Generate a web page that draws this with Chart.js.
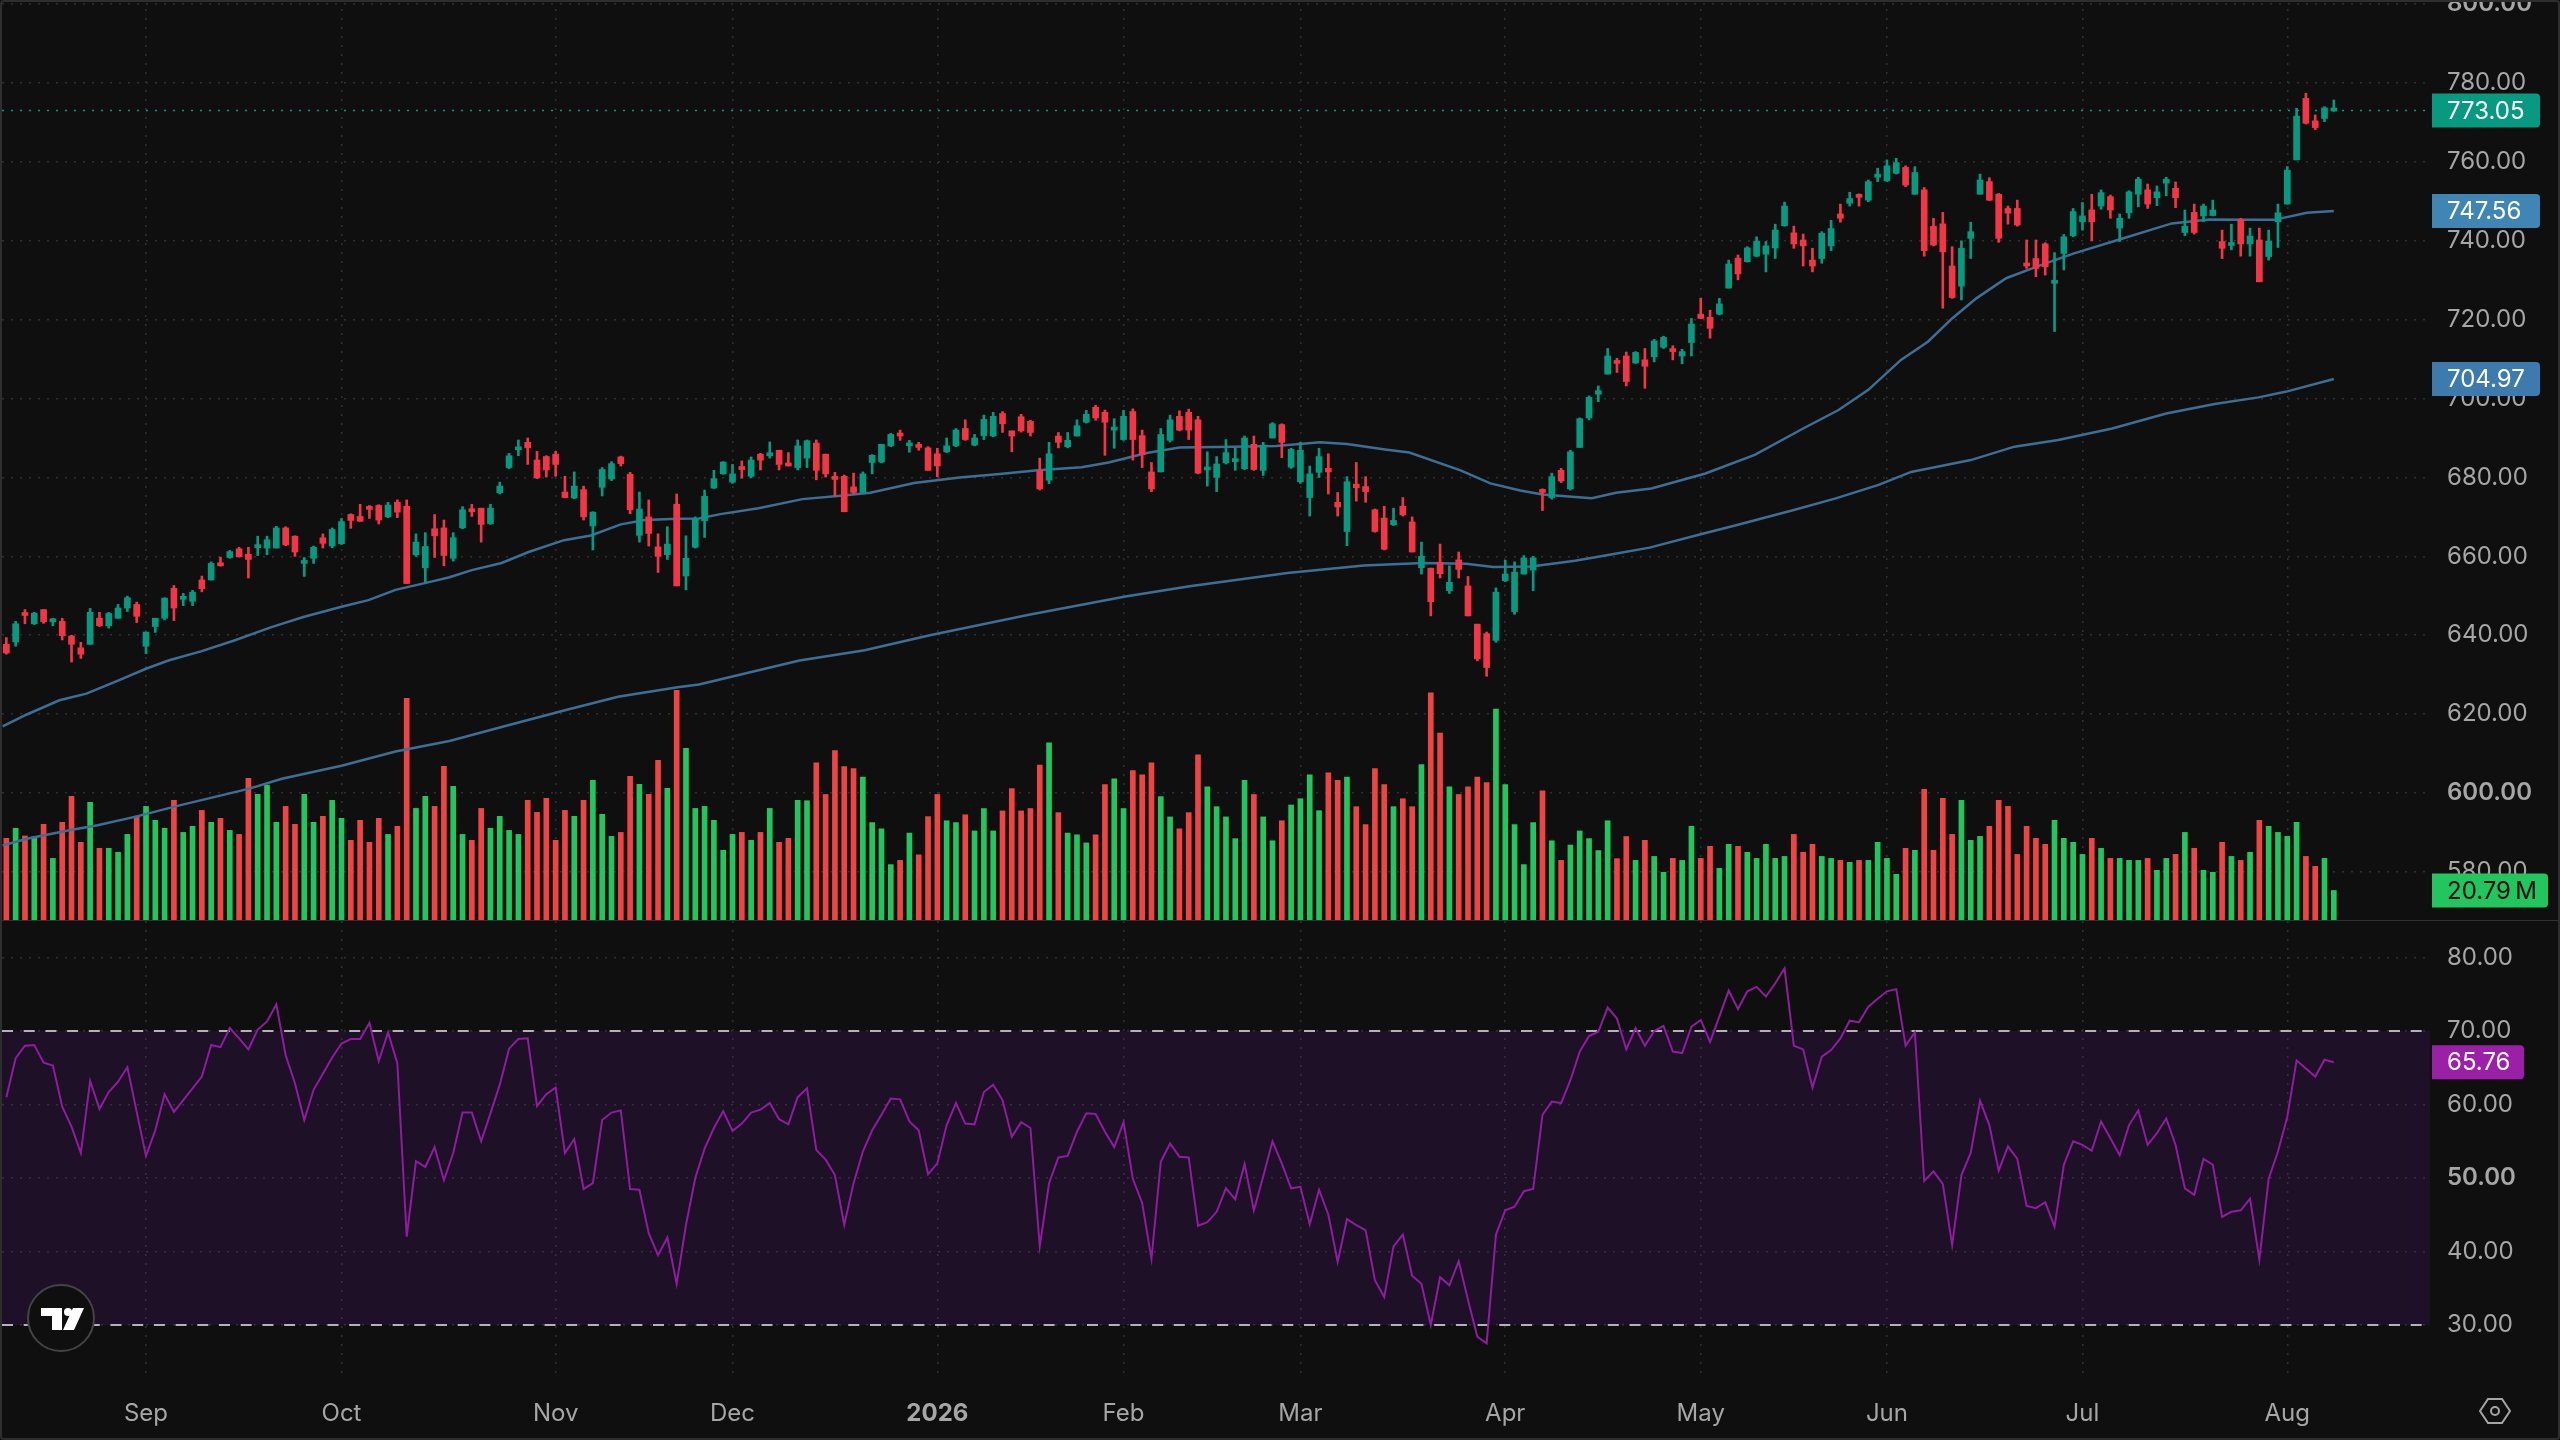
<!DOCTYPE html>
<html>
<head>
<meta charset="utf-8">
<title>Chart</title>
<script src="https://cdn.jsdelivr.net/npm/chart.js@4"></script>
<style>
  html, body { margin: 0; padding: 0; width: 2560px; height: 1440px; background: #0f0f0f; overflow: hidden; }
  canvas { position: absolute; left: 0; }
  #priceChart { top: 0; }
  #rsiChart { top: 921px; }
  #divider { position: absolute; left: 0; top: 920px; width: 2560px; height: 1px; background: #333; }
  #frame { position: absolute; left: 0; top: 0; width: 2556px; height: 1436px; border: 2px solid #2e2e2e; border-radius: 4px; pointer-events: none; }
</style>
</head>
<body>
<canvas id="priceChart" width="2560" height="920"></canvas>
<canvas id="rsiChart" width="2560" height="519"></canvas>
<div id="divider"></div>
<div id="frame"></div>
<script>
// bars are numbered 0..250, one per trading day
const monthTicks = [15, 36, 59, 78, 100, 120, 139, 161, 182, 202, 223, 245];
const monthLabels = ["Sep", "Oct", "Nov", "Dec", "2026", "Feb", "Mar", "Apr", "May", "Jun", "Jul", "Aug"];
const priceTicks = [580, 600, 620, 640, 660, 680, 700, 720, 740, 760, 780, 800];
const rsiTicks = [30, 40, 50, 60, 70, 80];

const opens = [
  637.7,638.3,645.5,642.9,646.5,643.4,643.5,639.8,636.8,637.7,
  644.3,642.4,644.3,646.9,647.8,637.2,642.2,644.3,651.9,649.1,
  648.6,654,654,657.9,659.7,661.9,660.5,662.2,662.1,662.1,
  667.2,665.1,658.2,659.5,664.7,662.6,663.2,670.6,670.1,672.2,
  672.9,670,673.7,672.7,660.4,657.1,667,667.2,659.5,667.2,
  671.8,672.2,668.3,676.1,682.5,687,688.9,684.4,685.3,685.9,
  676.3,674.8,676.9,667.7,677.5,679.6,685.2,680.8,665.3,670,
  662.4,660.4,673.2,655,662.3,669,677.3,680.9,678.8,682.5,
  680.3,685.9,685.5,686.9,683.3,682.5,684.9,688.7,685.9,680.1,
  680.3,677.6,676.2,683.8,683.9,688,690.9,688,688.1,687.5,
  686,686.5,688,692.4,688.2,690.6,690.5,696.2,691.8,695.4,
  694.2,681.7,679.3,690.5,687.8,690.5,694,697.8,696.5,692,
  689.6,696.7,690.6,681.4,681.4,689.4,695.5,696.5,694.6,681.9,
  680,683.7,684,682.2,688.4,681.8,690,693.4,682.6,678.9,
  674.9,681.3,682.3,673.7,666.3,678.3,677.7,671.8,669.7,668,
  672.7,668.7,657.1,657,658.5,651.3,659.1,652.5,642.8,640.4,
  638.7,653.8,646,655.5,656.5,676.7,674.9,681.8,677.1,687.6,
  695.1,701.1,706.2,709.3,710.8,709,709.8,710.6,713,712.5,
  710.8,714.2,721.4,720.6,721.4,728,735.6,734.7,736.1,736.6,
  738.2,743.8,742,740.2,735.1,735.5,738.7,746.8,749.5,751.4,
  750.3,756.1,755.2,757.1,758.6,751.8,752.9,743.7,744.3,733.6,
  728.5,740.6,751.8,755,751.8,748.2,748.2,734.1,735.5,739.2,
  729.2,736.8,741.3,744.8,747.8,748.8,751.2,743.2,747.1,751.8,
  752.9,750.9,754.6,753.3,742.1,747.2,746.3,746.4,739.8,738.8,
  745.4,739.2,740.2,736,744.8,749.3,760.5,776.1,770.4,771,772.9
];
const highs = [
  639.4,643.5,646.5,645.8,646.5,644.3,644.3,640,638.2,646.8,
  645.8,645.8,647.8,649.9,648.4,640.8,644.3,649.5,652.6,650.6,
  651.4,655,658.6,659.8,661.5,662.3,662.3,665.1,665.1,667.6,
  667.5,665.2,659.7,662.6,665.7,667.2,669.6,670.8,673.2,672.9,
  673.1,673.7,674.3,674.3,665.7,666,670.6,669.2,666,672.6,
  673.2,672.2,673.2,678.8,686.1,689.5,690,686.6,685.5,686.6,
  680.3,681.4,677.8,671.3,682.5,684,685.4,681.3,676.3,674.3,
  665.7,667.5,675.8,665.2,670,676.8,681.8,684,683.3,684.2,
  685.2,686.1,689,686.9,686.3,689.5,689.5,689.5,685.9,681.3,
  680.6,681.1,681.4,685.8,688.4,691.2,692,689.4,688.9,687.8,
  687.4,690,692.4,694.6,690.9,695.8,696.5,696.7,691.8,696,
  694.5,684.9,688.9,691.4,691.4,694.6,697,698.3,697.1,694.9,
  697,697.4,692,683.8,692.4,695.8,696.9,697.3,695.5,686.5,
  685.3,689.6,687.4,690.5,690.5,688.9,693.9,693.6,687.4,688.9,
  682.9,687.4,686,676.2,680.2,683.8,680.2,672,672.7,672.2,
  674.9,670,663.6,657,663.1,657.6,661.1,654.9,642.8,640.8,
  652,659,658.6,660.2,660,677.1,681.1,682.3,686.9,695.1,
  700.7,703.2,712.7,710.2,711.8,711.9,712.7,715,715.8,713.4,
  712.5,720.3,725.4,722.4,725.4,735.1,736.4,738.5,741,739.8,
  744.2,749.8,743.7,741.7,738.1,742.3,745.2,749.3,752.3,751.9,
  755.4,758.4,760.5,760.9,759,758.8,753.5,745.7,747.2,738.5,
  740,744.7,756.9,756,752,748.8,750.3,740.2,740.2,739.5,
  737,741.6,748.2,749.7,751.8,752.9,751.6,746.8,752.7,756.1,
  754.4,753.9,756.1,754.9,747.8,749.3,749.3,750.3,742.7,744.2,
  745.7,743.2,743.2,742.7,749.3,758.8,773.6,777.4,771.9,774,775.7
];
const lows = [
  635.2,637.2,642.9,642.7,643,642.4,638.8,633.2,634.1,637.7,
  642.2,641.8,644.3,646,643.2,635.3,640.7,643.9,643.7,647.5,
  647.5,651,654,657.5,659.5,659.8,654.5,660.2,660.4,662.1,
  662.7,660,654.9,658.2,662.1,662.2,663,667.1,668.8,669.6,
  668.2,669.8,669.8,653.1,660,653.4,659.7,657.6,658.8,667,
  670.1,663.6,668.1,675.8,682.2,685.5,683.3,679.7,680.1,680.3,
  674.8,674.6,669.2,661.6,675.3,679.2,682.9,670.8,663.6,662.6,
  655.9,659.2,652.5,651.5,662.1,664.8,677.2,680.8,678.5,679.8,
  679.9,681.9,684.9,681.9,682.9,681.9,682.5,679.4,680.1,675.2,
  671.3,675.8,676.1,680.9,683.7,687.8,689.4,686.4,686.9,681.8,
  680.2,686.3,687.8,689.4,688,689.6,690.3,691.4,686.5,691.5,
  690.5,676.8,678.4,687.5,687.5,690.5,693.8,694.5,685.6,687.4,
  689.4,684.4,682.5,676.4,681.4,689,691.8,689.6,680.9,677.8,
  676.4,683.4,681.8,682,681.8,680.5,690,685,682.3,678.5,
  670.2,680,675.8,670.2,662.7,674,673.7,666.1,661.6,667.8,
  670.2,661.1,655.5,644.9,654.5,650.6,654.5,644.9,633.5,629.6,
  638.2,653.6,645.3,655.5,651.3,671.6,674.5,678.7,676.8,687.6,
  694.6,699.2,706.2,706.6,703.2,708.9,702.6,709.3,712.7,709.8,
  708.8,710.8,720.3,715.3,721.2,728,730.1,734.6,736,732.1,
  735.5,743.7,738.1,733.6,732.1,734.3,737.5,744.7,748.8,748.8,
  749.9,755,755,756.9,753.7,751.8,736.1,738.7,722.9,725.4,
  725,735.5,751.8,750.2,739.6,744.2,743.7,733,730.9,731.3,
  717,732.6,741,742.7,740,748,745.7,739.8,745.7,748.6,
  748.2,748.9,751.4,748.4,741.3,741.7,744.8,746.3,735.5,737.7,
  736.1,736.1,729.6,735.1,738.3,749.3,760.5,769.6,768.2,770.2,772.8
];
const closes = [
  635.5,642.9,645,645.6,643.4,643.9,639.9,637.7,635.2,645.8,
  642.4,645.5,646.9,649.5,644.8,640.8,644.3,649.4,646.9,649.5,
  650.9,651.8,658.2,657.6,661.2,659.9,659.2,662.6,664.2,667.2,
  662.9,661.1,658.7,662.3,663.3,666.8,668.8,669.1,668.9,671.9,
  669.2,673,671.2,653.1,663.6,662.5,665.2,660.2,664.7,671.8,
  671.3,668.1,672.2,677.8,685.5,687.5,687.5,679.9,681.9,683.3,
  674.9,677.8,670,671.2,682,683.5,683.5,671.8,672,665.8,
  660,663.1,652.5,659.5,669.6,675.2,679.7,683.9,680.9,682,
  684.4,684.4,685.9,683.3,682.9,688,689.3,681.8,680.9,679.5,
  671.3,676.2,680.9,685.6,688.4,690.9,690.5,688.4,687.6,681.8,
  682.9,688,692,689.6,690,694.7,695.5,693.6,690.5,691.8,
  691.4,677.1,686,688.9,689.4,693.1,696,695.1,694,692.5,
  695.5,689.6,685.8,677.1,690.9,694.6,692,692,681.1,682.3,
  683.4,686.3,684.8,690,682,688.2,693.6,688.9,687.1,686.9,
  680.9,685.3,681.4,672.5,678.9,677.4,676.4,666.3,661.8,669.1,
  670.5,661.1,660,648.5,655.6,653.4,656.7,644.9,634,631.8,
  650.9,655.5,656,659.6,659.6,676.2,680.2,679.1,686.5,694.9,
  700.3,702,710.8,708.9,704.3,711.7,708.2,714.6,715.5,711.9,
  711.9,718.9,720.3,717.8,724,734.1,731.6,738.2,739.9,738.7,
  742.7,748.8,739.2,738.7,733.6,741.9,743.1,745.7,750.7,751,
  755,756.9,759,759.8,754.1,757.3,737.5,738.9,737.2,725.6,
  738.1,742.3,755.4,750.3,740.6,747,744,733.6,733,733.4,
  729.5,741,747.4,746.3,744.8,752.2,747.8,745.7,752.4,755.6,
  749.3,752.4,755.6,750.9,743.7,742.1,748.8,747.8,738.1,739.2,
  739.2,741.2,729.6,739.9,747.1,757.9,771.6,769.8,768.7,773.7,773.05
];
// volume in millions
const volumes = [
  57.5,64.6,59.2,58.7,67.4,43.4,68.8,87.1,54.7,82.9,
  50.5,50.5,47.7,60.3,73.2,80,70.2,64.6,84.3,61.7,
  66,77.2,68.8,71.6,63.1,60.3,99.8,88.5,95.1,68.8,
  80,67.4,88.5,68.8,73,84.3,71.6,56.1,70.2,54.7,
  71.6,60.3,66,156.1,78.6,87.1,80,108.2,94.1,60.3,
  56.1,78.6,64.6,73,63.1,60.3,84.3,75.8,85.7,56.1,
  77.2,73,84.3,98.4,74.4,58.9,61.7,101.2,95.5,88.5,
  112.4,92.7,161.7,120.9,78.6,80,70.2,49.1,60.3,61.7,
  56.1,61.7,78.6,54.7,57.5,84.3,84,110.6,88.4,119.3,
  108.1,106.7,100.7,68.6,64.2,39,42,61.2,45.9,72.8,
  88.4,69.9,68.6,74.1,62.7,78.5,62.7,76.8,92.6,76.8,
  78.5,109.1,124.7,75.6,61.2,60,54.3,60,95.3,99.5,
  78.5,105.2,102.2,110.6,86.9,72.6,64.2,75.6,116.3,93.8,
  79.8,72.6,57.3,98.3,88.4,72.6,55.8,69.9,81,85.4,
  102.2,77,103.7,98.3,100.7,79.8,67.2,106.7,95.3,79.8,
  85.4,79.8,109.4,160,131.6,93.8,88.4,93.8,100.7,96.8,
  148.6,95.3,67.2,39,68.6,90.9,55.8,42,52.8,62.7,
  57.3,48.9,69.9,43.2,58.8,42,56.1,44.8,33.6,43.4,
  42,66,43.4,51.9,36.4,53.3,51.9,47.7,43.4,53.3,
  43.4,44.8,60.3,47.7,53.3,44.8,43.4,42,40.6,42,
  42,54.7,43.4,32.2,50.5,49.1,92,49.1,85.7,60.3,
  84.3,56.1,58.9,66,84.3,80,46.2,66,57.5,53.3,
  70.2,57.5,54.7,46.2,57.5,50.5,43.4,43.4,42,42,
  43.4,35,43.4,46.2,61.7,50.5,35,33.6,54.7,44.8,
  42,47.7,70.2,66,61.7,58.9,68.8,44.8,37.8,43.4,20.79
];
const rsiValues = [
  61,66.3,68,68.1,65.7,65.3,59.7,57,53.4,63.2,
  59.4,61.7,63.1,65.1,59,53,56.5,61.4,59,60.6,
  62.2,63.8,68.1,67.8,70.4,69,67.5,70.2,71.3,73.6,
  66.7,62.9,57.9,62,64.2,66.4,68.3,68.9,68.9,71.1,
  65.9,69.8,65.6,42,52.3,51.5,54.2,49.7,53.4,58.9,
  58.9,55,58.8,62.7,67.6,68.9,69,59.8,61.4,62.3,
  53.4,55.3,48.5,49.3,57.9,58.9,59.2,48.5,48.4,42.5,
  39.5,41.9,35.6,43.6,50,54,56.8,59.1,56.4,57.4,
  58.9,59.3,60.2,58,57.3,61,62.2,53.8,52.5,50.4,
  43.6,49.3,53.6,56.5,58.6,60.8,60.7,57.7,56.5,50.5,
  52,57.2,60.2,57.4,57.3,61.7,62.7,60.6,55.6,57.6,
  56.8,40.7,49.3,52.8,53,56.3,58.8,58.7,56.3,54.2,
  57.6,49.9,46.6,39,52.2,54.7,52.9,52.8,43.5,44,
  45.4,48.6,47.1,51.9,45.6,50.2,55,52,48.6,48.8,
  43.7,48.4,45,38.6,44.4,43.6,42.9,36.1,33.8,40.7,
  42.3,36.7,35.6,30,36.5,35.4,38.7,33.4,28.4,27.5,
  42.3,45.6,46.1,48.2,48.5,58.6,60.4,60.2,63.3,67.2,
  69.3,69.9,73.2,71.7,67.5,70.4,68,70,70.7,67.2,
  67,70.6,71.5,68.5,72,75.5,73,75.4,76,74.7,
  76.5,78.5,68,67.5,62.3,66.5,67.4,69,71.4,71.2,
  73.3,74.4,75.4,75.7,68,69.8,49.6,50.9,49.2,40.9,
  50.4,53.4,60.5,57.2,51,54.3,52.6,46.2,45.9,46.7,
  43.4,51.8,55,54.5,53.7,57.7,55.4,53.1,57.2,59.2,
  54.5,56.1,58.1,54.5,48.6,47.7,52.6,51.8,44.7,45.4,
  45.6,47.2,38.9,49.9,53.6,58.3,66,64.9,63.8,66.1,65.76
];
// moving averages, read at their visible bends
const ma50Bars = [
  -0.4,2.2,5.7,8.6,11.8,15,17.4,20.9,24.4,28.4,31.9,36,38.9,41.8,45.3,47.6,50,53.2,56.1,59.9,
  62.8,66,68.6,72.1,74.4,76.7,80.8,85.5,89.9,92.8,97.5,102.4,106.7,110.8,115.5,118.4,122.5,126,
  131.8,136.4,141.1,144,148.1,150.7,156.2,159.4,162.6,165,170.3,172.9,176.7,182.5,187.8,193,
  196.8,200,203.5,206.4,209,211.6,214.8,218.6,222.1,226.8,232.6,236.6,241.9,243.6,247.1,250
];
const ma50 = [
  616.9,619.9,623.5,625.2,628.3,631.5,633.6,635.9,638.6,642,644.6,647.2,648.9,651.5,653.4,654.7,656.5,658.3,661.1,664.1,
  665.3,668.1,669.2,669.5,669.6,670.7,672.2,674.5,675.4,676.1,678.6,680,680.9,681.8,682.6,683.8,686.2,687.6,
  687.8,688,688.9,688.5,687.1,686.3,681.8,678.5,676.7,675.7,674.7,676.1,677.2,681,685.7,692.4,
  697.1,702.2,709.8,714.4,720.3,725.4,730.5,733.9,736.8,740.2,744.4,745.4,745.3,745.3,747.1,747.56
];
const ma200Bars = [
  -0.4,2.2,6.9,9.8,13.9,18.5,26.1,29.6,36,41.8,47.6,53.5,59.9,65.7,72.1,74.4,80.8,85.2,92.2,99.2,
  109.7,120.2,127.1,137.6,145.8,152.2,156.8,159.7,163.8,168.5,172.5,176.5,182,186,191.9,196.5,
  201.1,204.6,211,215.7,220.4,226.2,232,237.2,241.9,244.8,250
];
const ma200 = [
  586.7,588.4,590.6,591.8,594,596.8,601.1,603.6,606.9,610.5,613.2,616.9,620.9,624.4,626.8,627.5,631.1,633.6,636.2,640,
  645.1,649.8,652.4,655.8,657.7,658.3,658.1,657.3,657.4,658.9,660.5,662.2,665.6,668,671.7,674.7,
  678.1,681.4,684.4,687.8,689.5,692.4,696.2,698.6,700.3,701.7,704.97
];
const lastPrice = 773.05;
const rsiOverbought = 70;
const rsiOversold = 30;

const xMin = -0.467;
const xMax = 260.33;
const upColor = "#089981";
const downColor = "#f23645";
const volUp = "#22c55e";
const volDown = "#ef4444";
const maColor = "#3d6f96";
const gridColor = "#303030";
const labelColor = "#a6a6a6";
const bandDash = [11, 10.7];
const fontName = "Inter";

Chart.defaults.font.family = fontName;
Chart.defaults.font.size = 24;
Chart.defaults.color = labelColor;

const barIndex = closes.map((c, i) => i);
const isUp = barIndex.map(i => closes[i] >= opens[i]);

// the plot area has to sit exactly on the panes, so no label overhang
function noOverhang(scale) {
  scale.paddingTop = 0;
  scale.paddingBottom = 0;
  scale.paddingLeft = 0;
  scale.paddingRight = 0;
}

function xAxis(showLabels, height) {
  return {
    type: "linear",
    min: xMin,
    max: xMax,
    offset: false,
    afterBuildTicks: scale => { scale.ticks = monthTicks.map(v => ({ value: v })); },
    afterFit: scale => { scale.height = height; noOverhang(scale); },
    grid: { color: gridColor, lineWidth: 1.5, drawTicks: false, offset: false },
    border: { display: false, dash: [2, 7] },
    ticks: {
      display: showLabels,
      autoSkip: false,
      maxRotation: 0,
      padding: 19,
      color: labelColor,
      font: ctx => ({ size: 24, weight: monthLabels[ctx.index] === "2026" ? "700" : "400" }),
      callback: (value, index) => monthLabels[index]
    }
  };
}

function valueAxis(min, max, tickValues, boldValues) {
  return {
    position: "right",
    min: min,
    max: max,
    afterBuildTicks: scale => { scale.ticks = tickValues.map(v => ({ value: v })); },
    afterFit: scale => { scale.width = 130; noOverhang(scale); },
    grid: { color: gridColor, lineWidth: 1.5, drawTicks: false },
    border: { display: false, dash: [2, 7] },
    ticks: {
      autoSkip: false,
      padding: 17,
      color: labelColor,
      font: ctx => ({ size: 24, weight: ctx.tick && boldValues.includes(ctx.tick.value) ? "600" : "400" }),
      callback: value => value.toFixed(2)
    }
  };
}

// price tags on the right hand axis
function tagPlugin(tags) {
  return {
    id: "tags",
    afterDraw(chart) {
      const ctx = chart.ctx;
      ctx.save();
      ctx.font = "24px " + fontName;
      ctx.textBaseline = "middle";
      tags.forEach(tag => {
        const y = chart.scales[tag.scale].getPixelForValue(tag.value);
        ctx.fillStyle = tag.bg;
        ctx.beginPath();
        ctx.roundRect(2432, y - 17, tag.width, 34, [0, 4, 4, 0]);
        ctx.fill();
        ctx.fillStyle = tag.fg;
        ctx.fillText(tag.text, 2447, y + 1);
      });
      ctx.restore();
    }
  };
}

// logo and settings icon
const brandPlugin = {
  id: "brand",
  afterDraw(chart) {
    const ctx = chart.ctx;
    ctx.save();
    ctx.translate(0, -921);

    ctx.beginPath();
    ctx.arc(61, 1318, 33, 0, Math.PI * 2);
    ctx.fillStyle = "#0f0f0f";
    ctx.fill();
    ctx.lineWidth = 2;
    ctx.strokeStyle = "#444";
    ctx.stroke();

    ctx.fillStyle = "#ffffff";
    ctx.beginPath();
    ctx.moveTo(41, 1308); ctx.lineTo(62, 1308); ctx.lineTo(62, 1330); ctx.lineTo(52, 1330);
    ctx.lineTo(52, 1316); ctx.lineTo(41, 1316); ctx.closePath();
    ctx.fill();
    ctx.beginPath();
    ctx.arc(68, 1312, 4, 0, Math.PI * 2);
    ctx.fill();
    ctx.beginPath();
    ctx.moveTo(73, 1308); ctx.lineTo(84, 1308); ctx.lineTo(74, 1330); ctx.lineTo(63, 1330); ctx.closePath();
    ctx.fill();

    ctx.strokeStyle = "#a6a6a6";
    ctx.lineWidth = 2;
    ctx.beginPath();
    ctx.moveTo(2480, 1411); ctx.lineTo(2488, 1399); ctx.lineTo(2502, 1399);
    ctx.lineTo(2510, 1411); ctx.lineTo(2502, 1423); ctx.lineTo(2488, 1423);
    ctx.closePath();
    ctx.stroke();
    ctx.beginPath();
    ctx.arc(2495, 1411, 4, 0, Math.PI * 2);
    ctx.stroke();
    ctx.restore();
  }
};

new Chart(document.getElementById("priceChart"), {
  type: "bar",
  data: {
    datasets: [
      {
        label: "Volume",
        yAxisID: "yVol",
        data: barIndex.map(i => ({ x: i, y: volumes[i] })),
        backgroundColor: isUp.map(u => u ? volUp : volDown),
        barThickness: 5,
        grouped: false,
        order: 6
      },
      {
        type: "line",
        label: "MA 200",
        yAxisID: "y",
        data: ma200Bars.map((b, k) => ({ x: b, y: ma200[k] })),
        borderColor: maColor,
        borderWidth: 2.5,
        pointRadius: 0,
        order: 5
      },
      {
        type: "line",
        label: "MA 50",
        yAxisID: "y",
        data: ma50Bars.map((b, k) => ({ x: b, y: ma50[k] })),
        borderColor: maColor,
        borderWidth: 2.5,
        pointRadius: 0,
        order: 4
      },
      {
        type: "line",
        label: "Last",
        yAxisID: "y",
        data: [{ x: xMin, y: lastPrice }, { x: xMax, y: lastPrice }],
        borderColor: upColor,
        borderWidth: 1.5,
        borderDash: [2, 7],
        pointRadius: 0,
        order: 3
      },
      {
        label: "Wick",
        yAxisID: "y",
        data: barIndex.map(i => ({ x: i, y: [lows[i], highs[i]] })),
        backgroundColor: isUp.map(u => u ? upColor : downColor),
        barThickness: 2,
        grouped: false,
        order: 2
      },
      {
        label: "Body",
        yAxisID: "y",
        data: barIndex.map(i => ({ x: i, y: [opens[i], closes[i]] })),
        backgroundColor: isUp.map(u => u ? upColor : downColor),
        barThickness: 6,
        minBarLength: 3,
        grouped: false,
        order: 1
      }
    ]
  },
  options: {
    responsive: false,
    animation: false,
    devicePixelRatio: 1,
    layout: { autoPadding: false, padding: { left: 2 } },
    plugins: { legend: { display: false }, tooltip: { enabled: false } },
    scales: {
      x: xAxis(false, 0),
      y: valueAxis(567.8, 801.04, priceTicks, [600, 800]),
      yVol: { display: false, position: "left", min: 0, max: 647.9, grid: { display: false } }
    }
  },
  plugins: [tagPlugin([
    { scale: "y", value: lastPrice, text: "773.05", bg: "#089981", fg: "#ffffff", width: 108 },
    { scale: "y", value: ma50[ma50.length - 1], text: "747.56", bg: "#3f86b5", fg: "#ffffff", width: 108 },
    { scale: "y", value: ma200[ma200.length - 1], text: "704.97", bg: "#3d7aae", fg: "#ffffff", width: 108 },
    { scale: "yVol", value: volumes[volumes.length - 1], text: "20.79\u2009M", bg: "#22c55e", fg: "#0f0f0f", width: 116 }
  ])]
});

new Chart(document.getElementById("rsiChart"), {
  type: "line",
  data: {
    datasets: [
      {
        label: "Band",
        data: [{ x: xMin, y: rsiOverbought }, { x: xMax, y: rsiOverbought }],
        borderColor: "#b7b0bb",
        borderWidth: 2,
        borderDash: bandDash,
        pointRadius: 0,
        fill: { value: rsiOversold },
        backgroundColor: "rgba(135,25,200,0.13)",
        order: 3
      },
      {
        label: "Oversold",
        data: [{ x: xMin, y: rsiOversold }, { x: xMax, y: rsiOversold }],
        borderColor: "#b7b0bb",
        borderWidth: 2,
        borderDash: bandDash,
        pointRadius: 0,
        order: 2
      },
      {
        label: "RSI",
        data: barIndex.map(i => ({ x: i, y: rsiValues[i] })),
        borderColor: "#8f1d9f",
        borderWidth: 2,
        pointRadius: 0,
        order: 1
      }
    ]
  },
  options: {
    responsive: false,
    animation: false,
    devicePixelRatio: 1,
    layout: { autoPadding: false, padding: { left: 2 } },
    plugins: { legend: { display: false }, tooltip: { enabled: false } },
    scales: {
      x: xAxis(true, 60),
      y: valueAxis(22.517, 84.966, rsiTicks, [50])
    }
  },
  plugins: [
    tagPlugin([{ scale: "y", value: rsiValues[rsiValues.length - 1], text: "65.76", bg: "#9c1fa8", fg: "#ffffff", width: 92 }]),
    brandPlugin
  ]
});
</script>
</body>
</html>
